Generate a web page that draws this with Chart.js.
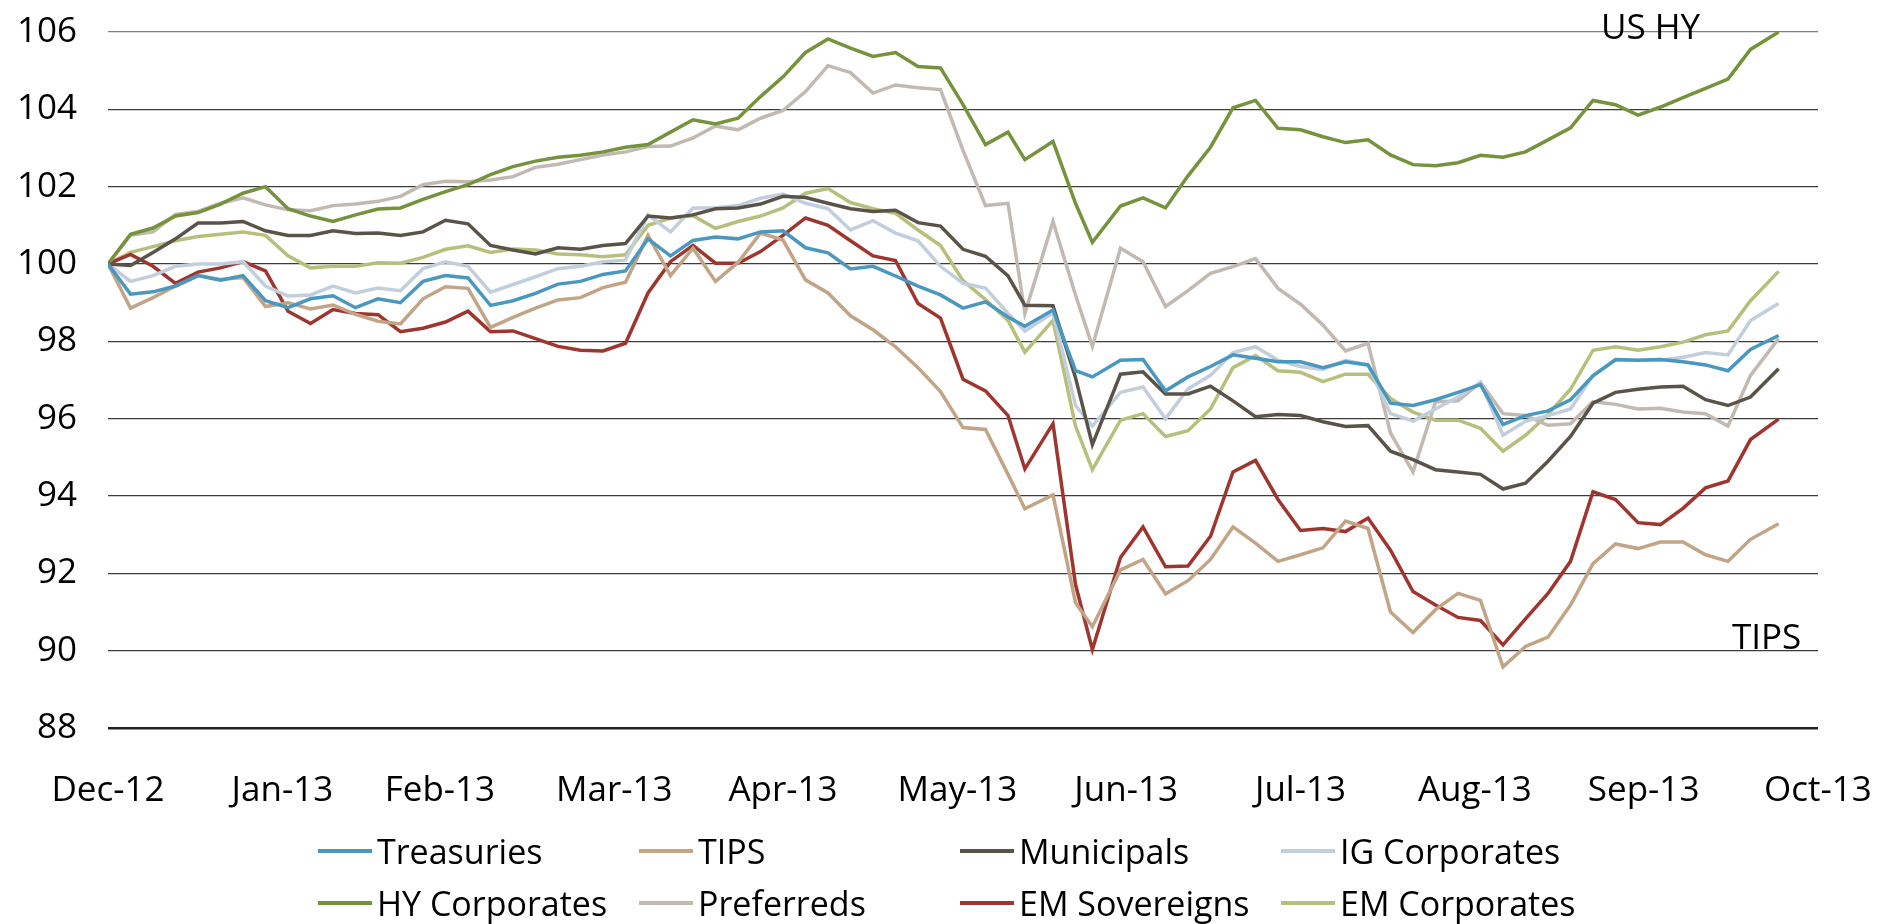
<!DOCTYPE html>
<html>
<head>
<meta charset="UTF-8">
<title>Fixed income total return index</title>
<style>
  html, body { margin: 0; padding: 0; background: #fff; }
  .chartCard { position: relative; width: 1879px; height: 924px; }
  #legend {
    position: absolute; left: 318px; top: 825px;
    display: grid; grid-template-columns: repeat(4, 321px);
    font: 400 34px "Open Sans", sans-serif; color: #000;
  }
  .item { display: flex; align-items: center; height: 52px; line-height: 52px; white-space: nowrap; }
  .swatch { width: 54px; height: 3.5px; margin-right: 5px; }
</style>
</head>
<body>
<div class="chartCard">
  <canvas id="myChart" width="1879" height="924"></canvas>
  <div id="legend"></div>
</div>
<script src="https://cdn.jsdelivr.net/npm/chart.js"></script>
<script>
// x = days after 31 Dec 2012
const days = [0,4,8,12,16,20,24,28,32,36,40,44,48,52,
  56,60,64,68,72,76,80,84,88,92,96,100,104,108,
  112,116,120,124,128,132,136,140,144,148,152,156,160,
  163,168,172,175,
  180,184,188,192,196,200,204,208,212,216,
  220,224,228,232,236,240,244,248,252,256,
  260,264,268,272,276,280,284,288,292,
  297];

// month-end ticks
const monthDays = [0, 31, 59, 90, 120, 151, 181, 212, 243, 273, 304];
const monthLabels = ['Dec-12','Jan-13','Feb-13','Mar-13','Apr-13','May-13','Jun-13','Jul-13','Aug-13','Sep-13','Oct-13'];

const treasuries = [100,99.22,99.28,99.43,99.7,99.58,99.7,99.05,98.87,99.1,99.18,98.87,99.1,99.0,
  99.55,99.7,99.64,98.93,99.05,99.24,99.48,99.55,99.73,99.82,100.65,100.21,100.61,100.7,
  100.65,100.83,100.86,100.42,100.29,99.87,99.94,99.69,99.43,99.2,98.86,99.02,98.63,
  98.39,98.81,97.24,97.08,
  97.51,97.53,96.72,97.08,97.35,97.65,97.56,97.47,97.47,97.32,
  97.47,97.39,96.4,96.34,96.49,96.68,96.88,95.85,96.08,96.2,
  96.49,97.11,97.53,97.51,97.53,97.47,97.39,97.24,97.79,
  98.15];

const tips = [100,98.86,99.13,99.43,99.7,99.6,99.65,98.9,99.0,98.84,98.94,98.7,98.52,98.45,
  99.1,99.41,99.37,98.36,98.62,98.86,99.07,99.13,99.39,99.53,100.74,99.7,100.41,99.55,
  100.04,100.8,100.62,99.59,99.25,98.66,98.3,97.86,97.32,96.7,95.77,95.72,94.56,
  93.67,94.03,91.24,90.62,
  92.09,92.36,91.47,91.81,92.36,93.2,92.78,92.31,92.48,92.66,
  93.35,93.16,91.0,90.47,91.06,91.48,91.3,89.58,90.11,90.35,
  91.18,92.25,92.76,92.64,92.81,92.81,92.48,92.31,92.88,
  93.28];

const municipals = [100,99.96,100.3,100.65,101.06,101.06,101.1,100.86,100.74,100.74,100.86,100.79,100.8,100.74,
  100.83,101.13,101.04,100.48,100.36,100.26,100.42,100.38,100.48,100.53,101.24,101.19,101.27,101.43,
  101.45,101.55,101.75,101.72,101.57,101.43,101.36,101.39,101.07,100.98,100.38,100.2,99.69,
  98.93,98.92,97.06,95.33,
  97.15,97.21,96.64,96.64,96.84,96.46,96.05,96.11,96.08,95.92,
  95.8,95.82,95.16,94.94,94.68,94.62,94.56,94.18,94.33,94.9,
  95.54,96.4,96.68,96.76,96.82,96.84,96.49,96.34,96.56,
  97.29];

const igCorporates = [100,99.55,99.7,99.94,100.0,100.0,100.06,99.43,99.17,99.2,99.43,99.25,99.38,99.31,
  99.88,100.06,99.94,99.27,99.47,99.67,99.88,99.94,100.06,100.1,101.27,100.83,101.45,101.45,
  101.51,101.7,101.81,101.57,101.43,100.88,101.12,100.8,100.6,99.94,99.5,99.38,98.72,
  98.27,98.74,96.34,95.81,
  96.68,96.82,96.0,96.77,97.12,97.71,97.86,97.51,97.35,97.27,
  97.51,97.39,96.13,95.94,96.25,96.56,96.94,95.57,95.93,96.08,
  96.25,97.12,97.51,97.51,97.51,97.59,97.71,97.65,98.54,
  98.98];

const hyCorporates = [100,100.77,100.93,101.24,101.33,101.55,101.83,102.0,101.43,101.24,101.1,101.27,101.42,101.45,
  101.67,101.87,102.05,102.31,102.52,102.66,102.76,102.81,102.9,103.02,103.09,103.41,103.73,103.62,
  103.77,104.33,104.84,105.47,105.82,105.58,105.37,105.47,105.11,105.07,104.12,103.09,103.41,
  102.7,103.17,101.57,100.56,
  101.5,101.71,101.45,102.28,103.02,104.04,104.23,103.51,103.47,103.29,
  103.14,103.21,102.82,102.57,102.54,102.62,102.81,102.76,102.9,103.21,
  103.52,104.23,104.12,103.85,104.06,104.3,104.54,104.78,105.55,
  106.0];

const preferreds = [100,100.74,100.83,101.28,101.36,101.57,101.71,101.53,101.4,101.38,101.51,101.55,101.62,101.75,
  102.05,102.14,102.13,102.17,102.26,102.5,102.58,102.7,102.82,102.9,103.04,103.05,103.26,103.57,
  103.47,103.77,103.97,104.46,105.13,104.95,104.42,104.63,104.56,104.51,102.94,101.51,101.57,
  98.72,101.1,99.2,97.87,
  100.41,100.06,98.9,99.31,99.76,99.93,100.14,99.37,98.96,98.42,
  97.75,97.95,95.63,94.62,96.44,96.46,96.94,96.13,96.08,95.83,
  95.87,96.44,96.37,96.25,96.27,96.17,96.13,95.81,97.12,
  98.07];

const emSovereigns = [100,100.25,99.94,99.5,99.79,99.9,100.06,99.82,98.78,98.46,98.82,98.72,98.69,98.25,
  98.34,98.5,98.78,98.25,98.27,98.07,97.87,97.77,97.75,97.95,99.25,100.06,100.48,100.02,
  100.02,100.32,100.74,101.19,101.0,100.6,100.21,100.09,98.98,98.6,97.02,96.72,96.08,
  94.7,95.87,91.71,90.03,
  92.41,93.2,92.17,92.19,92.96,94.62,94.92,93.91,93.11,93.16,
  93.08,93.43,92.6,91.53,91.18,90.86,90.78,90.15,90.82,91.48,
  92.31,94.11,93.91,93.31,93.26,93.68,94.21,94.39,95.46,
  95.99];

const emCorporates = [100,100.3,100.45,100.6,100.71,100.77,100.83,100.74,100.21,99.9,99.94,99.94,100.03,100.02,
  100.17,100.38,100.47,100.3,100.39,100.36,100.26,100.24,100.19,100.24,101.0,101.19,101.25,100.92,
  101.1,101.24,101.45,101.83,101.95,101.59,101.43,101.31,100.88,100.48,99.57,99.08,98.54,
  97.72,98.54,95.81,94.68,
  95.96,96.13,95.54,95.69,96.25,97.32,97.63,97.24,97.2,96.96,
  97.15,97.15,96.52,96.17,95.96,95.96,95.75,95.16,95.57,96.11,
  96.76,97.77,97.86,97.77,97.86,97.98,98.17,98.27,99.05,
  99.81];

const series = [
  ['Treasuries', treasuries, '#4a97c0'],
  ['TIPS', tips, '#c2a486'],
  ['Municipals', municipals, '#5a5349'],
  ['IG Corporates', igCorporates, '#c3cedd'],
  ['HY Corporates', hyCorporates, '#76923c'],
  ['Preferreds', preferreds, '#c1b9b2'],
  ['EM Sovereigns', emSovereigns, '#9f352f'],
  ['EM Corporates', emCorporates, '#b7bf7d']
];

// text labels on the plot (day, value of the baseline)
const notes = [
  { text: 'US HY', day: 265.4, value: 105.82 },
  { text: 'TIPS', day: 288.7, value: 90.05 }
];

const tickFont = { family: '"Open Sans", sans-serif', size: 35, weight: '400' };

const notePlugin = {
  id: 'notes',
  afterDatasetsDraw(chart) {
    const { ctx, scales: { x, y } } = chart;
    ctx.save();
    ctx.font = '400 35px "Open Sans", sans-serif';
    ctx.fillStyle = '#000';
    ctx.textAlign = 'left';
    ctx.textBaseline = 'alphabetic';
    notes.forEach(n => ctx.fillText(n.text, x.getPixelForValue(n.day), y.getPixelForValue(n.value)));
    ctx.restore();
  }
};

const data = {
  datasets: series.map(([label, values, color]) => ({
    label,
    data: values.map((v, i) => ({ x: days[i], y: v })),
    borderColor: color,
    backgroundColor: color,
    borderWidth: 3.5,
    pointRadius: 0,
    tension: 0
  }))
};

const config = {
  type: 'line',
  data,
  options: {
    responsive: false,
    animation: false,
    devicePixelRatio: 1,
    layout: { padding: { top: 32, right: 61, bottom: 109, left: 0 } },
    plugins: { legend: { display: false }, tooltip: { enabled: false } },
    scales: {
      x: {
        type: 'linear', min: 0, max: 304,
        afterBuildTicks: s => { s.ticks = monthDays.map(v => ({ value: v })); },
        afterFit: s => { s.height = 87; s.paddingLeft = 0; s.paddingRight = 0; },
        grid: { display: false, drawTicks: false },
        border: { display: false },
        ticks: {
          autoSkip: false, maxRotation: 0, padding: 42, color: '#000', font: tickFont,
          callback: v => monthLabels[monthDays.indexOf(v)]
        }
      },
      y: {
        min: 88, max: 106,
        afterFit: s => { s.width = 108; s.paddingTop = 0; s.paddingBottom = 0; },
        border: { display: false },
        grid: {
          drawTicks: false,
          color: c => c.tick.value === 106 ? '#808080' : (c.tick.value === 88 ? '#222222' : '#3c3c3c'),
          lineWidth: c => c.tick.value === 88 ? 2.4 : 1.3
        },
        ticks: { stepSize: 2, padding: 31, color: '#000', font: tickFont }
      }
    }
  },
  plugins: [notePlugin]
};

const myChart = new Chart(document.getElementById('myChart'), config);

// legend in a 4 x 2 grid, as in the original
const legendBox = document.getElementById('legend');
myChart.data.datasets.forEach(ds => {
  const item = document.createElement('div');
  item.className = 'item';
  item.innerHTML = `<span class="swatch" style="background:${ds.borderColor}"></span><span>${ds.label}</span>`;
  legendBox.appendChild(item);
});
</script>
</body>
</html>
